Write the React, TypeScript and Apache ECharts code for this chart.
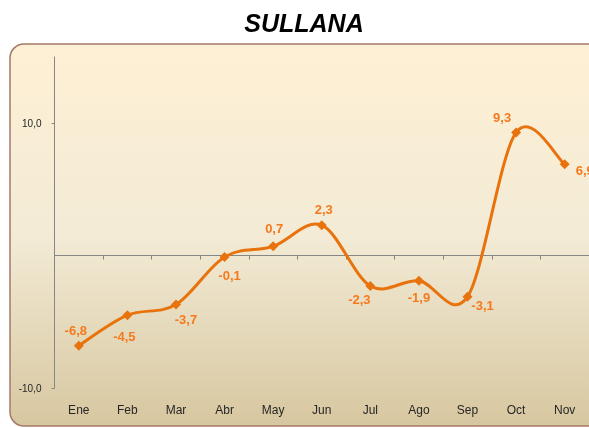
import React, { useEffect, useRef } from "react";
import * as echarts from "echarts";

const categories = ["Ene", "Feb", "Mar", "Abr", "May", "Jun", "Jul", "Ago", "Sep", "Oct", "Nov"];
const values: number[] = [-6.8, -4.5, -3.7, -0.1, 0.7, 2.3, -2.3, -1.9, -3.1, 9.3, 6.9];
const yTickValues = [-10, 10];
const titleText = "SULLANA";

// label offsets (styling only)
const labelOffsets: [number, number][] = [
  [-3, -15], [-3, 21], [10, 15], [5, 19], [1, -18], [2, -16],
  [-11, 13], [0, 17], [15, 9], [-14, -15], [20, 6],
];

const fmt = (v: number) => v.toFixed(1).replace(".", ",");

export default function App() {
  const ref = useRef<HTMLDivElement>(null);
  useEffect(() => {
    if (!ref.current) return;
    const chart = echarts.init(ref.current, null, { renderer: "svg" });
    const orange = "#E8720C";
    const labelColor = "#F57A1E";
    const font = "Liberation Sans Narrow, Liberation Sans, Arial, sans-serif";
    chart.setOption({
      animation: false,
      graphic: {
        elements: [
          {
            type: "rect",
            z: -100,
            shape: { x: 10, y: 44, width: 640, height: 382, r: 14 },
            style: {
              fill: new echarts.graphic.LinearGradient(0, 0, 0, 1, [
                { offset: 0, color: "#FEF0D4" },
                { offset: 0.5, color: "#F3EBD6" },
                { offset: 1, color: "#D7C7A0" },
              ]),
              stroke: "#A57868",
              lineWidth: 1.5,
            },
          },
          {
            type: "text",
            x: 304,
            y: 23,
            style: {
              text: titleText,
              fontFamily: "Liberation Sans, Arial, sans-serif",
              fontWeight: "bold",
              fontStyle: "italic",
              fontSize: 25,
              fill: "#000000",
              textAlign: "center",
              textVerticalAlign: "middle",
            },
          },
        ],
      },
      grid: { left: 54.5, top: 57, right: 0, height: 331, containLabel: false },
      xAxis: [
        {
          type: "category",
          data: categories,
          boundaryGap: true,
          axisLine: { onZero: true, lineStyle: { color: "#868686", width: 1 } },
          axisTick: { show: true, length: 4, alignWithLabel: false, lineStyle: { color: "#868686" } },
          axisLabel: { show: false },
          splitLine: { show: false },
        },
        {
          type: "category",
          data: categories,
          position: "bottom",
          boundaryGap: true,
          axisLine: { show: false, onZero: false },
          axisTick: { show: false },
          axisLabel: { show: true, margin: 16, color: "#262626", fontSize: 12, fontFamily: font },
          splitLine: { show: false },
        },
      ],
      yAxis: {
        type: "value",
        min: -10,
        max: 15,
        axisLine: { show: true, lineStyle: { color: "#868686", width: 1 } },
        axisTick: { show: true, length: 3, customValues: yTickValues, lineStyle: { color: "#868686" } },
        axisLabel: {
          show: true,
          customValues: yTickValues,
          margin: 13,
          color: "#262626",
          fontSize: 10,
          fontFamily: font,
          formatter: (v: number) => fmt(v),
        },
        splitLine: { show: false },
      },
      series: [
        {
          type: "custom",
          xAxisIndex: 0,
          data: [[0, values[0]]],
          silent: true,
          z: 4,
          renderItem: (_params: any, api: any) => {
            const pts = values.map((v, i) => api.coord([i, v]));
            const n = pts.length;
            let d = `M ${pts[0][0]} ${pts[0][1]}`;
            for (let i = 0; i < n - 1; i++) {
              const p0 = pts[i - 1] || pts[i];
              const p1 = pts[i];
              const p2 = pts[i + 1];
              const p3 = pts[i + 2] || pts[i + 1];
              const c1x = p1[0] + (p2[0] - p0[0]) / 6;
              const c1y = p1[1] + (p2[1] - p0[1]) / 6;
              const c2x = p2[0] - (p3[0] - p1[0]) / 6;
              const c2y = p2[1] - (p3[1] - p1[1]) / 6;
              d += ` C ${c1x} ${c1y} ${c2x} ${c2y} ${p2[0]} ${p2[1]}`;
            }
            return {
              type: "path",
              shape: { pathData: d },
              style: { stroke: orange, lineWidth: 3, fill: "none" },
            };
          },
        },
        {
          type: "line",
          xAxisIndex: 0,
          data: values.map((v, i) => ({ value: v, label: { offset: labelOffsets[i] } })),
          symbol: "diamond",
          symbolSize: 10,
          lineStyle: { color: orange, width: 0, opacity: 0 },
          itemStyle: { color: orange },
          label: {
            show: true,
            position: "inside",
            color: labelColor,
            fontWeight: "bold",
            fontSize: 13,
            fontFamily: font,
            formatter: (p: any) => fmt(p.value),
          },
          z: 5,
        },
      ],
    });
    return () => chart.dispose();
  }, []);
  return <div ref={ref} style={{ position: "fixed", left: 0, top: 0, width: 589, height: 428 }} />;
}
